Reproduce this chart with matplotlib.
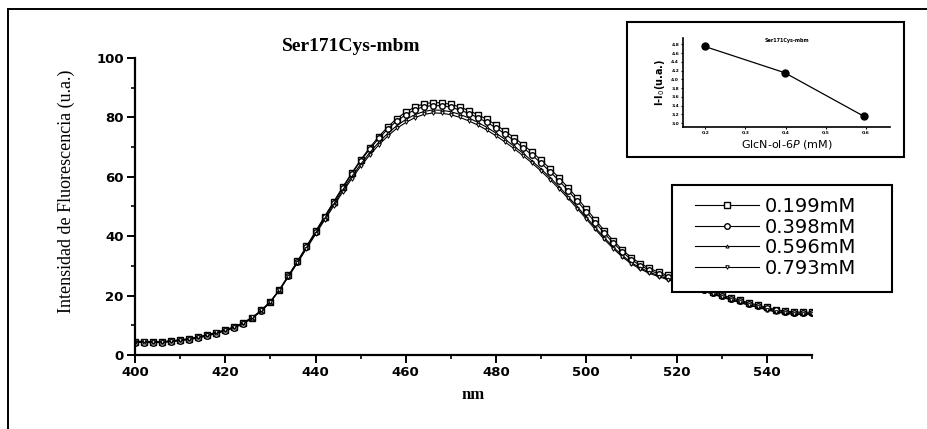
import numpy as np
import matplotlib
matplotlib.use("Agg")
import matplotlib.pyplot as plt
from matplotlib.lines import Line2D
from matplotlib.patches import Rectangle

# --- spectra (nm, every 2 nm) ---
nm = list(range(400, 551, 2))

c0199 = [4.5, 4.5, 4.4, 4.4, 4.7, 5.0, 5.4, 6.0, 6.7, 7.5, 8.4, 9.4, 10.8, 12.6, 15.0, 18.0,
         22.0, 26.8, 31.6, 36.6, 41.6, 46.6, 51.5, 56.5, 61.2, 65.7, 69.8, 73.5, 76.8, 79.6,
         81.8, 83.5, 84.6, 85.0, 84.9, 84.4, 83.5, 82.3, 80.9, 79.3, 77.5, 75.4, 73.2, 70.8,
         68.3, 65.6, 62.7, 59.6, 56.3, 52.8, 49.2, 45.5, 41.9, 38.5, 35.4, 32.8, 30.8, 29.2,
         27.9, 26.8, 25.8, 24.7, 23.6, 22.4, 21.3, 20.2, 19.3, 18.5, 17.6, 16.8, 16.0, 15.3,
         14.8, 14.5, 14.4, 14.4]
c0398 = [4.2, 4.2, 4.1, 4.2, 4.5, 4.8, 5.2, 5.7, 6.4, 7.2, 8.1, 9.1, 10.5, 12.4, 14.8, 17.8,
         21.8, 26.6, 31.4, 36.4, 41.4, 46.4, 51.3, 56.2, 60.9, 65.3, 69.3, 72.9, 76.1, 78.8,
         80.9, 82.6, 83.6, 84.0, 83.9, 83.4, 82.5, 81.3, 79.9, 78.3, 76.5, 74.4, 72.2, 69.8,
         67.3, 64.6, 61.7, 58.6, 55.3, 51.8, 48.2, 44.6, 41.0, 37.7, 34.7, 32.1, 30.1, 28.6,
         27.3, 26.2, 25.2, 24.1, 23.0, 21.9, 20.8, 19.8, 18.9, 18.1, 17.3, 16.5, 15.7, 15.0,
         14.5, 14.2, 14.1, 14.1]
c0596 = [4.4, 4.4, 4.3, 4.3, 4.6, 4.9, 5.3, 5.9, 6.6, 7.4, 8.3, 9.3, 10.7, 12.5, 14.9, 17.9,
         21.8, 26.5, 31.2, 36.1, 41.0, 45.9, 50.7, 55.5, 60.0, 64.2, 68.1, 71.6, 74.6, 77.2,
         79.3, 80.9, 82.0, 82.5, 82.4, 81.9, 81.0, 79.8, 78.3, 76.6, 74.7, 72.6, 70.3, 67.9,
         65.3, 62.6, 59.7, 56.6, 53.3, 49.9, 46.4, 42.9, 39.5, 36.3, 33.5, 31.1, 29.3, 27.9,
         26.7, 25.7, 24.7, 23.7, 22.7, 21.6, 20.6, 19.6, 18.6, 17.7, 16.9, 16.1, 15.3, 14.6,
         14.1, 13.8, 13.8, 13.8]
c0793 = [4.6, 4.6, 4.5, 4.5, 4.8, 5.1, 5.5, 6.1, 6.8, 7.6, 8.5, 9.5, 10.9, 12.7, 15.0, 18.0,
         21.8, 26.4, 31.0, 35.8, 40.6, 45.4, 50.1, 54.8, 59.3, 63.5, 67.3, 70.7, 73.7, 76.3,
         78.3, 79.9, 81.0, 81.5, 81.4, 80.9, 80.0, 78.8, 77.4, 75.7, 73.8, 71.7, 69.5, 67.1,
         64.6, 61.9, 59.0, 55.9, 52.7, 49.3, 45.8, 42.3, 38.9, 35.8, 33.0, 30.7, 28.9, 27.5,
         26.4, 25.4, 24.5, 23.5, 22.5, 21.5, 20.5, 19.5, 18.6, 17.7, 16.8, 16.0, 15.2, 14.5,
         14.0, 13.7, 13.7, 13.7]

labels = ["0.199mM", "0.398mM", "0.596mM", "0.793mM"]

# --- inset data ---
conc = [0.199, 0.398, 0.596]
delta_f = [4.75, 4.15, 3.15]
inset_yticks = [3.0, 3.2, 3.4, 3.6, 3.8, 4.0, 4.2, 4.4, 4.6, 4.8]
inset_xticks = [0.2, 0.3, 0.4, 0.5, 0.6]

W, H = 927, 429
fig = plt.figure(figsize=(W / 100, H / 100), dpi=100)
fig.patch.set_facecolor("white")

ax = fig.add_axes([0.1456, 0.1725, 0.7303, 0.6923])

styles = [
    dict(marker="s", markersize=4.2, markerfacecolor="white", markeredgewidth=1.0),
    dict(marker="o", markersize=4.0, markerfacecolor="white", markeredgewidth=1.0),
    dict(marker="^", markersize=2.2, markerfacecolor="white", markeredgewidth=0.7),
    dict(marker="v", markersize=2.6, markerfacecolor="white", markeredgewidth=0.7),
]
for ys, lab, st in zip([c0199, c0398, c0596, c0793], labels, styles):
    ax.plot(nm, ys, color="black", linewidth=0.8, label=lab, **st)

ax.set_xlim(400, 550)
ax.set_ylim(0, 100)
ax.set_xticks(range(400, 541, 20))
ax.set_xticks(range(410, 551, 20), minor=True)
ax.set_yticks(range(0, 101, 20))
ax.set_yticks(range(10, 100, 20), minor=True)
for s in ["top", "right"]:
    ax.spines[s].set_visible(False)
for s in ["left", "bottom"]:
    ax.spines[s].set_linewidth(1.6)
ax.tick_params(which="major", direction="out", length=6, width=1.4, pad=2)
ax.tick_params(which="minor", direction="out", length=3, width=1.2)
for t in ax.get_xticklabels() + ax.get_yticklabels():
    t.set_fontfamily("DejaVu Sans")
    t.set_fontweight("bold")
    t.set_fontsize(9.5)

ax.set_ylabel("Intensidad de Fluorescencia (u.a.)", family="Liberation Serif",
              fontsize=13)
ax.yaxis.set_label_coords(-0.088, 0.55)
ax.set_xlabel("nm", family="Liberation Serif", fontweight="bold", fontsize=12, labelpad=6)
ax.text(448, 104, "Ser171Cys-mbm", family="Liberation Serif", fontweight="bold",
        fontsize=14, ha="center", va="center")

# legend: entries without frame, box drawn separately
leg = ax.legend(loc="upper left", bbox_to_anchor=(695 / W, 1 - 197 / H),
                bbox_transform=fig.transFigure, borderaxespad=0, borderpad=0,
                frameon=False, handlelength=3.3, labelspacing=0.08, handletextpad=0.3,
                prop=dict(family="DejaVu Sans", size=14))
leg.set_zorder(6)
box = Rectangle((672 / W, 1 - 292 / H), 220 / W, 107 / H, transform=fig.transFigure,
                facecolor="white", edgecolor="black", linewidth=1.5, zorder=5,
                clip_on=False)
ax.add_patch(box)

# --- inset ---
fig.add_artist(Rectangle((627 / W, 1 - 157 / H), 277 / W, 135 / H,
                         transform=fig.transFigure, fill=False, edgecolor="black",
                         linewidth=1.5))
axi = fig.add_axes([0.737, 0.704, 0.223, 0.207])
axi.plot(conc, delta_f, color="black", linewidth=0.9, marker="o", markersize=5)
axi.set_xlim(0.145, 0.66)
axi.set_ylim(2.91, 4.94)
axi.set_xticks(inset_xticks)
axi.set_yticks(inset_yticks)
for s in ["top", "right"]:
    axi.spines[s].set_visible(False)
for s in ["left", "bottom"]:
    axi.spines[s].set_linewidth(1.2)
axi.tick_params(length=1.5, width=0.8, pad=1.5, labelsize=3.2)
for t in axi.get_xticklabels() + axi.get_yticklabels():
    t.set_fontweight("bold")
axi.set_xlabel(r"GlcN-ol-$\mathit{6P}$ (mM)", fontsize=8, labelpad=2)
axi.set_ylabel(r"I-I$_0$(u.a.)", fontsize=7, fontweight="bold", labelpad=3)
axi.text(0.5, 0.97, "Ser171Cys-mbm", transform=axi.transAxes, ha="center",
         va="center", fontsize=3.5, fontweight="bold")

# --- outer frame ---
fig.add_artist(Line2D([8 / W, 8 / W], [0, 1 - 9 / H], transform=fig.transFigure,
                      color="black", linewidth=1.4))
fig.add_artist(Line2D([8 / W, 1], [1 - 9 / H, 1 - 9 / H], transform=fig.transFigure,
                      color="black", linewidth=1.4))

fig.savefig("out.png", dpi=100)
